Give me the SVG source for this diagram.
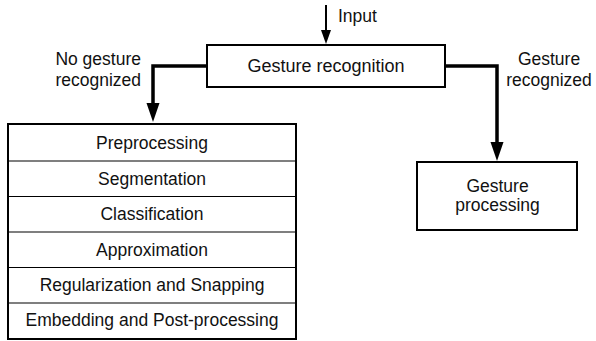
<svg xmlns="http://www.w3.org/2000/svg" width="596" height="341" viewBox="0 0 596 341">
<style>
text{font-family:"Liberation Sans",Arial,sans-serif;font-size:17.5px;fill:#111;}
.c{text-anchor:middle;}
.box{fill:#fff;stroke:#000;stroke-width:2;}
.div{stroke:#000;stroke-width:1.2;}
.conn{fill:none;stroke:#000;stroke-width:3.5;}
.thin{fill:none;stroke:#000;stroke-width:2;}
</style>
<defs>
<marker id="ah" markerUnits="userSpaceOnUse" markerWidth="20" markerHeight="14" refX="1" refY="6.5" orient="auto">
<path d="M0,0 L19,6.5 L0,13 z" fill="#000"/>
</marker>
<marker id="ahs" markerUnits="userSpaceOnUse" markerWidth="16" markerHeight="12" refX="1" refY="5" orient="auto">
<path d="M0,0 L14,5 L0,10 z" fill="#000"/>
</marker>
</defs>
<g id="connectors">
<path class="thin" d="M326,5 V31" marker-end="url(#ahs)"/>
<path class="conn" d="M207,66 H153 V104" marker-end="url(#ah)"/>
<path class="conn" d="M445,66 H497 V143" marker-end="url(#ah)"/>
<text x="338" y="22">Input</text>
<text x="141" y="65" text-anchor="end">No gesture</text>
<text x="141" y="86" text-anchor="end">recognized</text>
<text class="c" x="549" y="65">Gesture</text>
<text class="c" x="549" y="86">recognized</text>
</g>
<g id="gesture-recognition">
<rect class="box" x="207" y="45" width="238" height="42"/>
<text class="c" x="326" y="72" style="font-size:18px">Gesture recognition</text>
</g>
<g id="pipeline">
<rect class="box" x="8" y="124" width="288" height="215"/>
<line class="div" x1="8" y1="161" x2="296" y2="161"/>
<line class="div" x1="8" y1="196.5" x2="296" y2="196.5"/>
<line class="div" x1="8" y1="232" x2="296" y2="232"/>
<line class="div" x1="8" y1="267.5" x2="296" y2="267.5"/>
<line class="div" x1="8" y1="303" x2="296" y2="303"/>
<text class="c" x="152" y="149">Preprocessing</text>
<text class="c" x="152" y="185">Segmentation</text>
<text class="c" x="152" y="220">Classification</text>
<text class="c" x="152" y="256">Approximation</text>
<text class="c" x="152" y="291">Regularization and Snapping</text>
<text class="c" x="152" y="326">Embedding and Post-processing</text>
</g>
<g id="gesture-processing">
<rect class="box" x="417" y="162" width="160" height="68"/>
<text class="c" x="497.5" y="192">Gesture</text>
<text class="c" x="497.5" y="211">processing</text>
</g>
</svg>
